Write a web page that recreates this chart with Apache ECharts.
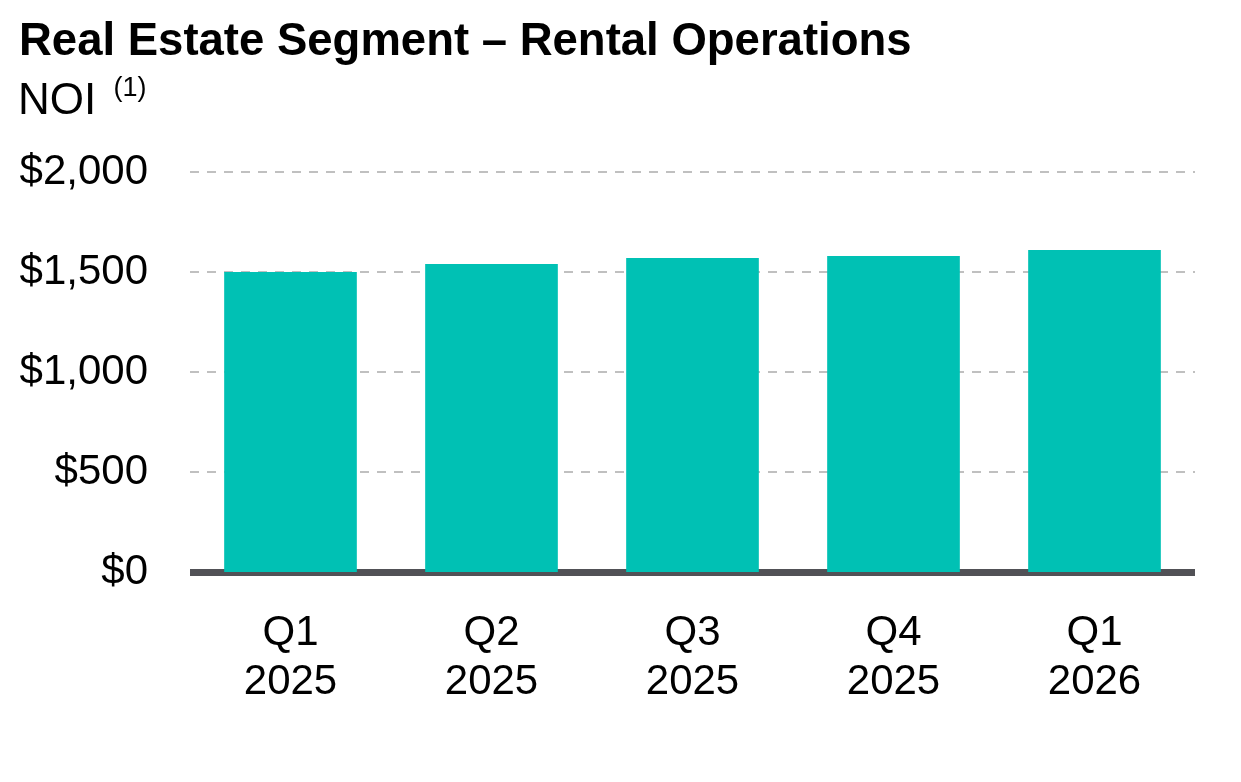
<!DOCTYPE html>
<html>
<head>
<meta charset="utf-8">
<script src="https://cdn.jsdelivr.net/npm/echarts@6/dist/echarts.min.js"></script>
<style>
  html, body { margin: 0; padding: 0; background: #fff; }
  #chart { width: 1241px; height: 782px; }
</style>
</head>
<body>
<div id="chart"></div>
<script>
// 数据
var categories = ['Q1\n2025', 'Q2\n2025', 'Q3\n2025', 'Q4\n2025', 'Q1\n2026'];
var noiValues = [1500, 1540, 1570, 1580, 1610];
var yTicks = [0, 500, 1000, 1500, 2000];

var font = 'Liberation Sans, Arial, sans-serif';

var chart = echarts.init(document.getElementById('chart'));
var option = {
  backgroundColor: '#fff',
  title: [{
    text: 'Real Estate Segment – Rental Operations',
    left: 14,
    top: 14,
    textStyle: { fontFamily: font, fontSize: 45.5, fontWeight: 'bold', color: '#000' }
  }, {
    text: 'NOI {sup|(1)}',
    left: 13,
    top: 70,
    textStyle: {
      fontFamily: font, fontSize: 44, fontWeight: 'normal', color: '#000',
      rich: {
        sup: { fontFamily: font, fontSize: 27, color: '#000', verticalAlign: 'top', padding: [0, 0, 26, 5] }
      }
    }
  }],
  grid: { left: 190, right: 46, top: 172, bottom: 210, containLabel: false },
  xAxis: {
    type: 'category',
    data: categories,
    axisLine: { show: true, lineStyle: { color: '#515156', width: 7, cap: 'butt' } },
    axisTick: { show: false },
    axisLabel: {
      margin: 37,
      fontFamily: font, fontSize: 42, color: '#000', lineHeight: 49
    }
  },
  yAxis: {
    type: 'value',
    min: yTicks[0],
    max: yTicks[yTicks.length - 1],
    interval: 500,
    axisLine: { show: false },
    axisTick: { show: false },
    splitLine: { lineStyle: { color: '#c0c0c0', width: 2, type: [9, 8] } },
    axisLabel: {
      margin: 42,
      fontFamily: font, fontSize: 42, color: '#000',
      formatter: function (v) {
        return '$' + v.toLocaleString('en-US');
      }
    }
  },
  series: [{
    name: 'NOI',
    type: 'bar',
    data: noiValues,
    barWidth: '66%',
    itemStyle: { color: '#00c1b4' },
    z: 1
  }],
  animation: false
};
chart.setOption(option);
</script>
</body>
</html>
